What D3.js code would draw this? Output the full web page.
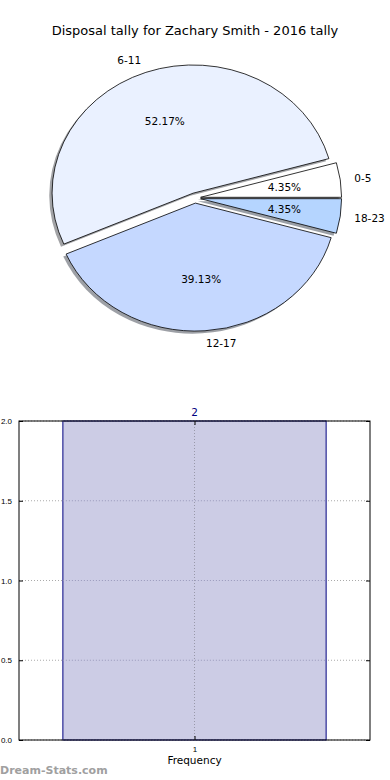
<!DOCTYPE html>
<html>
<head>
<meta charset="utf-8">
<script src="https://cdnjs.cloudflare.com/ajax/libs/d3/7.8.5/d3.min.js"></script>
<style>
  body { margin: 0; background: #fff; }
  svg { display: block; font-family: "DejaVu Sans", sans-serif; }
</style>
</head>
<body>
<svg width="390" height="780"></svg>
<script>
// pie data
var ageGroups = ["0-5", "6-11", "12-17", "18-23"];
var disposals = [1, 12, 9, 1];
var sliceColors = ["#ffffff", "#eaf1ff", "#c5d8ff", "#b5d5ff"];

// frequency bar
var freqCategories = [1];
var freqValues = [2];
var yTicks = [0, 0.5, 1.0, 1.5, 2.0];

window.onload = initialize();

function initialize() {
	var svg = d3.select("svg");

	svg.append("text")
	    .attr("x", 195)
	    .attr("y", 35)
	    .attr("text-anchor", "middle")
	    .style("font-size", "13px")
	    .text("Disposal tally for Zachary Smith - 2016 tally");

	drawPie(svg);
	drawBars(svg);

	svg.append("text")
	    .attr("x", 0)
	    .attr("y", 774)
	    .attr("fill", "#a0a0a0")
	    .style("font-size", "11px")
	    .style("font-weight", "bold")
	    .text("Dream-Stats.com");
}

function drawPie(svg) {
	var cx = 195, cy = 198,
	    rx = 141, ry = 128,
	    explode = 0.04,
	    total = d3.sum(disposals);

	var pie = d3.pie()
	    .sort(null)
	    .startAngle(Math.PI / 2)
	    .endAngle(Math.PI / 2 - 2 * Math.PI);

	var arc = d3.arc().innerRadius(0).outerRadius(1);

	var arcs = pie(disposals);
	arcs.forEach(function(d, i) {
		d.mid = (d.startAngle + d.endAngle) / 2;
		d.dx = explode * rx * Math.sin(d.mid);
		d.dy = -explode * ry * Math.cos(d.mid);
		d.label = ageGroups[i];
		d.color = sliceColors[i];
	});

	var g = svg.append("g").attr("transform", "translate(" + cx + "," + cy + ")");

	// shadows first
	g.selectAll("path.shadow")
	    .data(arcs)
	    .enter().append("path")
	      .attr("class", "shadow")
	      .attr("transform", function(d) {
	      	return "translate(" + (d.dx - 0.02 * rx) + "," + (d.dy + 0.02 * ry) + ") scale(" + rx + "," + ry + ")";
	      })
	      .attr("d", arc)
	      .attr("fill", function(d) {
	      	var c = d3.rgb(d.color);
	      	return d3.rgb(c.r * 0.3, c.g * 0.3, c.b * 0.3);
	      })
	      .attr("fill-opacity", 0.5)
	      .attr("stroke", "none");

	g.selectAll("path.slice")
	    .data(arcs)
	    .enter().append("path")
	      .attr("class", "slice")
	      .attr("transform", function(d) {
	      	return "translate(" + d.dx + "," + d.dy + ") scale(" + rx + "," + ry + ")";
	      })
	      .attr("d", arc)
	      .attr("fill", function(d) { return d.color; })
	      .attr("stroke", "#000")
	      .attr("stroke-width", 0.8)
	      .attr("vector-effect", "non-scaling-stroke");

	g.selectAll("text.label")
	    .data(arcs)
	    .enter().append("text")
	      .attr("class", "label")
	      .attr("x", function(d) { return d.dx + 1.1 * rx * Math.sin(d.mid); })
	      .attr("y", function(d) { return d.dy - 1.1 * ry * Math.cos(d.mid); })
	      .attr("dy", "0.35em")
	      .attr("text-anchor", function(d) { return Math.sin(d.mid) > 0 ? "start" : "end"; })
	      .style("font-size", "10.5px")
	      .text(function(d) { return d.label; });

	g.selectAll("text.pct")
	    .data(arcs)
	    .enter().append("text")
	      .attr("class", "pct")
	      .attr("x", function(d) { return d.dx + 0.6 * rx * Math.sin(d.mid); })
	      .attr("y", function(d) { return d.dy - 0.6 * ry * Math.cos(d.mid); })
	      .attr("dy", "0.35em")
	      .attr("text-anchor", "middle")
	      .style("font-size", "10.5px")
	      .text(function(d) { return (d.value / total * 100).toFixed(2) + "%"; });
}

function drawBars(svg) {
	var left = 19, right = 370, top = 421, bottom = 740,
	    barWidth = 0.75;

	var x = d3.scaleLinear().domain([0.5, 1.5]).range([left, right]);
	var y = d3.scaleLinear().domain([0, 2]).range([bottom, top]);

	var g = svg.append("g");

	// grid
	g.selectAll("line.hgrid")
	    .data(yTicks)
	    .enter().append("line")
	      .attr("class", "hgrid")
	      .attr("x1", left).attr("x2", right)
	      .attr("y1", function(d) { return y(d); })
	      .attr("y2", function(d) { return y(d); })
	      .attr("stroke", "#aaaaaa")
	      .attr("stroke-width", 1)
	      .attr("stroke-dasharray", "1,2");

	g.selectAll("rect.bar")
	    .data(freqValues)
	    .enter().append("rect")
	      .attr("class", "bar")
	      .attr("x", function(d, i) { return x(freqCategories[i] - barWidth / 2); })
	      .attr("width", function(d, i) { return x(freqCategories[i] + barWidth / 2) - x(freqCategories[i] - barWidth / 2); })
	      .attr("y", function(d) { return y(d); })
	      .attr("height", function(d) { return y(0) - y(d); })
	      .attr("fill", "#ccccE5")
	      .attr("stroke", "#000080")
	      .attr("stroke-width", 1);

	g.selectAll("line.hgrid2")
	    .data(yTicks)
	    .enter().append("line")
	      .attr("x1", function() { return x(freqCategories[0] - barWidth / 2); })
	      .attr("x2", function() { return x(freqCategories[0] + barWidth / 2); })
	      .attr("y1", function(d) { return y(d); })
	      .attr("y2", function(d) { return y(d); })
	      .attr("stroke", "#9999bb")
	      .attr("stroke-width", 1)
	      .attr("stroke-dasharray", "1,2");

	g.selectAll("line.vgrid")
	    .data(freqCategories)
	    .enter().append("line")
	      .attr("x1", function(d) { return x(d); })
	      .attr("x2", function(d) { return x(d); })
	      .attr("y1", top).attr("y2", bottom)
	      .attr("stroke", "#9999aa")
	      .attr("stroke-width", 1)
	      .attr("stroke-dasharray", "1,2");

	// value labels
	g.selectAll("text.val")
	    .data(freqValues)
	    .enter().append("text")
	      .attr("x", function(d, i) { return x(freqCategories[i]); })
	      .attr("y", function(d) { return y(d) - 5; })
	      .attr("text-anchor", "middle")
	      .attr("fill", "#000080")
	      .style("font-size", "10.5px")
	      .text(function(d) { return d; });

	// axes
	var yAxis = d3.axisLeft(y)
	    .tickValues(yTicks)
	    .tickSize(-4)
	    .tickPadding(7)
	    .tickFormat(d3.format(".1f"));

	g.append("g")
	    .attr("transform", "translate(" + left + ",0)")
	    .call(yAxis)
	    .call(function(a) {
	    	a.select(".domain").remove();
	    	a.selectAll("text").style("font-size", "8px").attr("fill", "#000");
	    	a.selectAll("line").attr("stroke", "#000");
	    });

	g.append("g")
	    .attr("transform", "translate(" + right + ",0)")
	    .call(d3.axisRight(y).tickValues(yTicks).tickSize(-4).tickFormat(""))
	    .call(function(a) { a.select(".domain").remove(); });

	var xAxis = d3.axisBottom(x)
	    .tickValues(freqCategories)
	    .tickSize(-4)
	    .tickPadding(6)
	    .tickFormat(d3.format("d"));

	g.append("g")
	    .attr("transform", "translate(0," + bottom + ")")
	    .call(xAxis)
	    .call(function(a) {
	    	a.select(".domain").remove();
	    	a.selectAll("text").style("font-size", "8px").attr("fill", "#000");
	    });

	g.append("g")
	    .attr("transform", "translate(0," + top + ")")
	    .call(d3.axisTop(x).tickValues(freqCategories).tickSize(-4).tickFormat(""))
	    .call(function(a) { a.select(".domain").remove(); });

	g.append("rect")
	    .attr("x", left).attr("y", top)
	    .attr("width", right - left).attr("height", bottom - top)
	    .attr("fill", "none")
	    .attr("stroke", "#000")
	    .attr("stroke-width", 1);

	g.append("text")
	    .attr("x", (left + right) / 2)
	    .attr("y", 764)
	    .attr("text-anchor", "middle")
	    .style("font-size", "10.5px")
	    .text("Frequency");
}
</script>
</body>
</html>
